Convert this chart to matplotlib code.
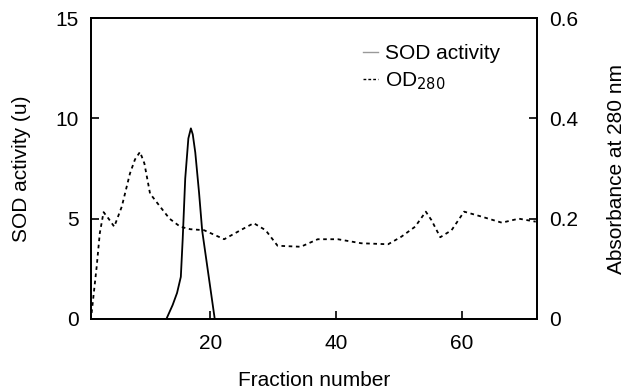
import matplotlib
matplotlib.use("Agg")
import matplotlib.pyplot as plt
from matplotlib.lines import Line2D

plt.rcParams['font.family'] = ['Liberation Sans', 'DejaVu Sans']

# SOD activity (u) by fraction
sod_frac = [13.0, 14.0, 14.7, 15.3, 15.6, 16.0, 16.5, 16.9, 17.2, 17.6, 18.2, 18.7, 19.7, 20.7]
sod_val = [0.0, 0.7, 1.3, 2.1, 4.0, 7.0, 9.0, 9.5, 9.2, 8.3, 6.3, 4.4, 2.2, 0.0]

# Absorbance at 280 nm by fraction
od_frac = [1.1, 1.9, 2.4, 3.0, 3.8, 4.7, 5.9, 7.2, 8.0, 8.8, 9.5, 10.4, 12.0, 13.5, 15.2, 16.8,
           19.0, 22.2, 24.8, 26.9, 28.8, 30.7, 34.4, 37.1, 40.3, 44.0, 48.3, 50.4, 52.6,
           54.3, 55.2, 56.6, 58.4, 60.4, 63.2, 66.4, 69.1, 71.8]
od_val = [0.012, 0.104, 0.171, 0.213, 0.200, 0.184, 0.224, 0.29, 0.318, 0.333, 0.31, 0.25,
          0.224, 0.20, 0.184, 0.179, 0.177, 0.159, 0.177, 0.191, 0.177, 0.146, 0.144, 0.159,
          0.159, 0.151, 0.149, 0.164, 0.184, 0.214, 0.197, 0.163, 0.177, 0.214, 0.204,
          0.192, 0.200, 0.194]

x_ticks = [20, 40, 60]
left_ticks = [0, 5, 10, 15]
right_ticks = [0, 0.2, 0.4, 0.6]

FS = 15

fig = plt.figure(figsize=(6.35, 3.92), dpi=100)
ax = fig.add_axes([91/635, 1-319/392, (537-91)/635, (319-18)/392])
ax2 = ax.twinx()

ax.plot(sod_frac, sod_val, color='black', lw=1.3)
ax2.plot(od_frac, od_val, color='black', lw=1.3, linestyle=(0, (2, 2)))

ax.set_xlim(1, 72)
ax.set_ylim(0, 15)
ax2.set_ylim(0, 0.6)
ax.set_xticks(x_ticks)
ax.set_yticks(left_ticks)
ax2.set_yticks(right_ticks)
ax2.set_yticklabels(['0', '0.2', '0.4', '0.6'])

for a in (ax, ax2):
    a.tick_params(direction='in', length=6, width=1.2, labelsize=FS, pad=9)
    for s in a.spines.values():
        s.set_linewidth(1.3)
ax.tick_params(axis='x', pad=11)

ax.set_xlabel('Fraction number', fontsize=FS)
ax.xaxis.set_label_coords(0.5, (319 - 381) / (319 - 18), transform=ax.transAxes)
ax.xaxis.label.set_va('center')
ax.set_ylabel('SOD activity (u)', fontsize=FS)
ax.yaxis.set_label_coords((21 - 91) / (537 - 91), 0.5)
ax.yaxis.label.set_va('center')
ax2.set_ylabel('Absorbance at 280 nm', fontsize=FS)
ax2.yaxis.set_label_coords((617 - 91) / (537 - 91), 0.5)
ax2.yaxis.label.set_va('center')

handles = [Line2D([], [], color='#999999', lw=1.0),
           Line2D([], [], color='black', lw=1.0, linestyle=(0, (2, 1.5)))]
ax2.legend(handles, ['SOD activity', r'OD$_{280}$'], loc='upper left',
           bbox_to_anchor=((363 - 91) / (537 - 91), (319 - 44) / (319 - 18)),
           frameon=False, fontsize=FS, borderaxespad=0, borderpad=0,
           handlelength=0.7, handletextpad=0.35, labelspacing=0.35)

fig.savefig('out.png', dpi=100)
